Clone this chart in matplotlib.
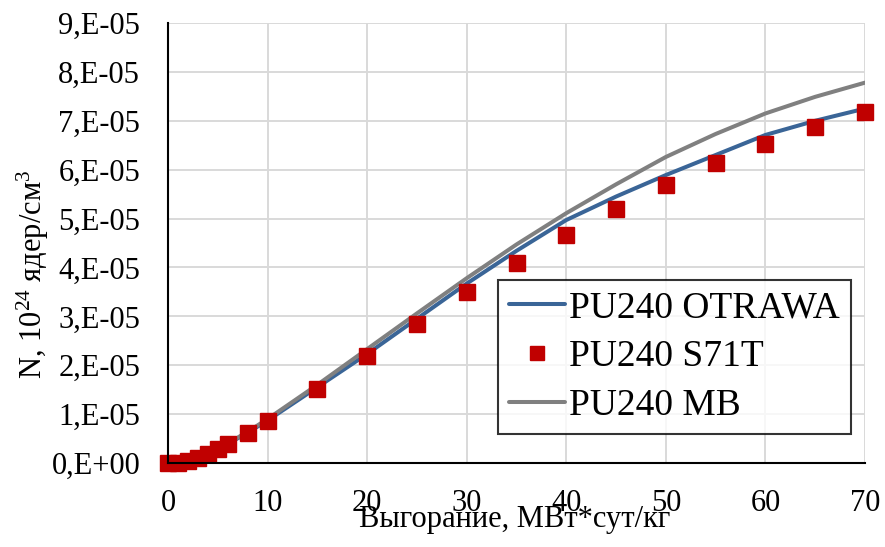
import matplotlib
matplotlib.use("Agg")
import matplotlib.pyplot as plt

# ---- data ----
# burnup, MW*day/kg
burnup_calc = [0, 2, 4, 6, 8, 10, 15, 20, 25, 30, 35, 40, 45, 50, 55, 60, 65, 70]
# PU240 OTRAWA
pu240_otrawa = [0.0, 0.04e-5, 0.19e-5, 0.39e-5, 0.62e-5, 0.87e-5, 1.55e-5, 2.23e-5,
                2.95e-5, 3.67e-5, 4.34e-5, 4.97e-5, 5.45e-5, 5.89e-5, 6.30e-5,
                6.71e-5, 7.00e-5, 7.25e-5]
# PU240 MB
pu240_mb = [0.0, 0.04e-5, 0.19e-5, 0.40e-5, 0.64e-5, 0.90e-5, 1.60e-5, 2.33e-5,
            3.06e-5, 3.78e-5, 4.47e-5, 5.11e-5, 5.70e-5, 6.26e-5, 6.73e-5,
            7.15e-5, 7.49e-5, 7.78e-5]

# PU240 S71T (points)
burnup_s71t = [0, 1, 2, 3, 4, 5, 6, 8, 10, 15, 20, 25, 30, 35, 40, 45, 50, 55, 60, 65, 70]
pu240_s71t = [0.0, 0.01e-5, 0.035e-5, 0.11e-5, 0.19e-5, 0.29e-5, 0.39e-5, 0.62e-5,
              0.865e-5, 1.51e-5, 2.19e-5, 2.84e-5, 3.50e-5, 4.09e-5, 4.66e-5,
              5.19e-5, 5.69e-5, 6.13e-5, 6.52e-5, 6.87e-5, 7.18e-5]

x_ticks = [0, 10, 20, 30, 40, 50, 60, 70]
y_ticks = [0, 1e-5, 2e-5, 3e-5, 4e-5, 5e-5, 6e-5, 7e-5, 8e-5, 9e-5]
y_tick_labels = ["0,E+00", "1,E-05", "2,E-05", "3,E-05", "4,E-05",
                 "5,E-05", "6,E-05", "7,E-05", "8,E-05", "9,E-05"]

# ---- style ----
plt.rcParams["font.family"] = ["Liberation Serif", "DejaVu Serif"]
plt.rcParams["mathtext.fontset"] = "custom"
plt.rcParams["mathtext.rm"] = "Liberation Serif"
plt.rcParams["mathtext.it"] = "Liberation Serif:italic"

W, H = 885, 547
fig = plt.figure(figsize=(W / 100, H / 100), dpi=100)
ax = fig.add_axes([168 / W, 1 - 463 / H, (865 - 168) / W, (463 - 23) / H])

ax.plot(burnup_calc, pu240_otrawa, color="#3A6597", lw=2.9,
        label="PU240 OTRAWA", zorder=3, solid_capstyle="round")
ax.plot(burnup_s71t, pu240_s71t, ls="none", marker="s", ms=12.2,
        color="#C00000", mec="#C00000", label="PU240 S71T", zorder=5, clip_on=False)
ax.plot(burnup_calc, pu240_mb, color="#808080", lw=2.9,
        label="PU240 MB", zorder=4, solid_capstyle="round")

ax.set_xlim(0, 70)
ax.set_ylim(0, 9e-5)
ax.set_xticks(x_ticks)
ax.set_yticks(y_ticks)
ax.set_yticklabels(y_tick_labels)
ax.tick_params(axis="both", length=0, labelsize=22)
ax.tick_params(axis="y", pad=20)
ax.tick_params(axis="x", pad=19)

ax.grid(True, color="#D9D9D9", lw=1.4)
ax.set_axisbelow(True)
for side in ["top", "right"]:
    ax.spines[side].set_visible(False)
for side in ["left", "bottom"]:
    ax.spines[side].set_linewidth(1.5)
    ax.spines[side].set_color("black")
    ax.spines[side].set_zorder(6)

# axis titles
fig.text(515 / W, 1 - 505 / H, "Выгорание, МВт*сут/кг", fontsize=22,
         ha="center", va="top")
fig.text(33 / W, 1 - 274 / H, "N, 10$^{24}$ ядер/см$^{3}$", fontsize=22,
         rotation=90, ha="center", va="center")

leg = ax.legend(loc="lower right", bbox_to_anchor=((851 - 168) / 697, (463 - 434) / 440),
                borderaxespad=0, fontsize=27, frameon=True, fancybox=False,
                handlelength=1.5, handletextpad=0.1, labelspacing=0.38,
                borderpad=0.3, markerscale=0.85)
leg.get_frame().set_edgecolor("black")
leg.get_frame().set_linewidth(1.5)
leg.set_zorder(10)

fig.savefig("out.png", dpi=100)
